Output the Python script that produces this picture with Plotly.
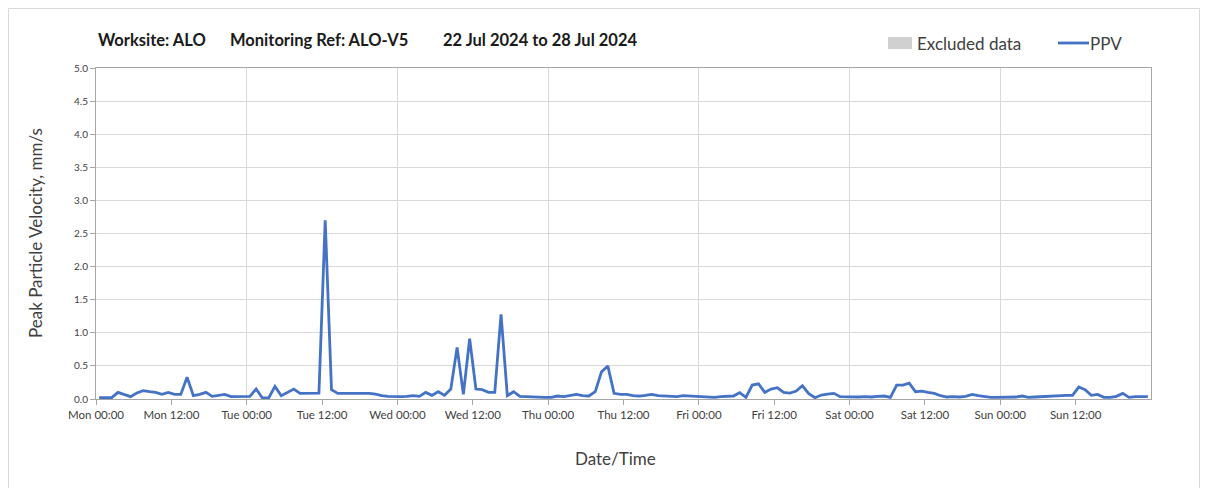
import plotly.graph_objects as go

# ---- data ----
hours = [h + 0.5 for h in range(168)]  # hourly readings, plotted mid-hour
ppv = [
    # Mon
    0.02, 0.02, 0.02, 0.10, 0.07, 0.035, 0.09, 0.125, 0.11, 0.10, 0.07, 0.10,
    0.07, 0.07, 0.33, 0.05, 0.07, 0.10, 0.04, 0.05, 0.07, 0.035, 0.035, 0.035,
    # Tue
    0.04, 0.15, 0.015, 0.015, 0.19, 0.05, 0.10, 0.15, 0.085, 0.09, 0.095, 0.09,
    2.70, 0.14, 0.085, 0.085, 0.09, 0.09, 0.09, 0.085, 0.075, 0.05, 0.04, 0.035,
    # Wed
    0.035, 0.04, 0.05, 0.04, 0.10, 0.055, 0.11, 0.055, 0.15, 0.78, 0.07, 0.91,
    0.15, 0.14, 0.10, 0.10, 1.28, 0.05, 0.11, 0.04, 0.035, 0.025, 0.025, 0.025,
    # Thu
    0.025, 0.045, 0.035, 0.05, 0.07, 0.05, 0.045, 0.11, 0.41, 0.50, 0.085, 0.07,
    0.07, 0.05, 0.045, 0.055, 0.07, 0.05, 0.045, 0.05, 0.035, 0.05, 0.045, 0.045,
    # Fri
    0.035, 0.03, 0.025, 0.035, 0.045, 0.045, 0.095, 0.025, 0.21, 0.23, 0.10, 0.15,
    0.17, 0.10, 0.09, 0.12, 0.20, 0.08, 0.02, 0.06, 0.075, 0.085, 0.035, 0.03,
    # Sat
    0.025, 0.03, 0.035, 0.03, 0.04, 0.045, 0.025, 0.21, 0.21, 0.24, 0.11, 0.12,
    0.10, 0.085, 0.05, 0.03, 0.035, 0.03, 0.04, 0.07, 0.05, 0.035, 0.025, 0.025,
    # Sun
    0.025, 0.025, 0.03, 0.045, 0.025, 0.03, 0.035, 0.05, 0.055, 0.055, 0.055, 0.055,
    0.18, 0.14, 0.055, 0.07, 0.025, 0.025, 0.04, 0.085, 0.025, 0.035, 0.035, 0.035,
]
tick_hours = list(range(0, 168, 12))
tick_labels = ["Mon 00:00", "Mon 12:00", "Tue 00:00", "Tue 12:00", "Wed 00:00",
               "Wed 12:00", "Thu 00:00", "Thu 12:00", "Fri 00:00", "Fri 12:00",
               "Sat 00:00", "Sat 12:00", "Sun 00:00", "Sun 12:00"]
day_bounds = list(range(24, 168, 24))
y_ticks = [i * 0.5 for i in range(11)]

FONT = "Lato, 'Open Sans', sans-serif"
TXT = "#404040"
LINE_BLUE = "#4472C4"
GRID = "#d9d9d9"
AXIS = "#a6a6a6"

fig = go.Figure()
fig.add_trace(go.Scatter(x=hours, y=ppv, mode="lines", name="PPV",
                         line=dict(color=LINE_BLUE, width=2.8), showlegend=False))

# page has an 8px body margin; work in page pixel coordinates
OFF = 8
PAGE_W, PAGE_H = 1208, 488
W, H = PAGE_W - OFF, PAGE_H - OFF
PL, PR, PT, PB = 96, 1151, 68, 399  # plot area in page pixels
L, T = PL - OFF, PT - OFF
R, B = W - (PR - OFF), H - (PB - OFF)
pw, ph = PR - PL, PB - PT


def px(x):
    return (x - PL) / pw


def py(y):
    return (PB - y) / ph


fig.update_layout(
    width=W, height=H,
    margin=dict(l=L, r=R, t=T, b=B, pad=0),
    paper_bgcolor="white", plot_bgcolor="white",
    font=dict(family=FONT, color=TXT),
    showlegend=False,
)
fig.update_xaxes(
    range=[0, 168], tickmode="array", tickvals=tick_hours, ticktext=tick_labels,
    showgrid=False, ticks="outside", ticklen=5, tickcolor=AXIS,
    tickfont=dict(size=11.5, color=TXT, family=FONT),
    showline=True, linecolor=AXIS, linewidth=1, mirror=True,
    minor=dict(tickvals=day_bounds, showgrid=True, gridcolor=GRID, gridwidth=1, ticks=""),
    zeroline=False,
)
fig.update_yaxes(
    range=[0, 5], tickmode="array", tickvals=y_ticks, tickformat=".1f",
    showgrid=True, gridcolor=GRID, gridwidth=1,
    ticks="outside", ticklen=5, tickcolor=AXIS,
    tickfont=dict(size=10, color=TXT, family=FONT),
    showline=True, linecolor=AXIS, linewidth=1, mirror=True, zeroline=False,
)

ann = [
    dict(text="<b>Worksite: ALO</b>", x=px(96), y=py(40)),
    dict(text="<b>Monitoring Ref: ALO-V5</b>", x=px(228), y=py(40)),
    dict(text="<b>22 Jul 2024 to 28 Jul 2024</b>", x=px(441), y=py(40)),
]
for a in ann:
    fig.add_annotation(xref="paper", yref="paper", xanchor="left", yanchor="middle",
                       showarrow=False, font=dict(size=16.5, color="#1a1a1a", family=FONT), **a)

# legend (manual)
fig.add_shape(type="rect", xref="paper", yref="paper", x0=px(888), x1=px(912),
              y0=py(49), y1=py(37), fillcolor="#d0d0d0", line=dict(width=0))
fig.add_annotation(xref="paper", yref="paper", x=px(915), y=py(43), text="Excluded data",
                   xanchor="left", yanchor="middle", showarrow=False,
                   font=dict(size=17, color=TXT, family=FONT))
fig.add_shape(type="line", xref="paper", yref="paper", x0=px(1058), x1=px(1089),
              y0=py(43), y1=py(43), line=dict(color=LINE_BLUE, width=2.8))
fig.add_annotation(xref="paper", yref="paper", x=px(1088), y=py(43), text="PPV",
                   xanchor="left", yanchor="middle", showarrow=False,
                   font=dict(size=17, color=TXT, family=FONT))

# axis titles
fig.add_annotation(xref="paper", yref="paper", x=px(35), y=py(233), text="Peak Particle Velocity, mm/s",
                   textangle=-90, showarrow=False, xanchor="center", yanchor="middle",
                   font=dict(size=17, color=TXT, family=FONT))
fig.add_annotation(xref="paper", yref="paper", x=px(615), y=py(458), text="Date/Time",
                   showarrow=False, xanchor="center", yanchor="middle",
                   font=dict(size=17, color=TXT, family=FONT))

# outer frame
fig.add_shape(type="rect", xref="paper", yref="paper", x0=px(8.5), x1=px(1199.5),
              y0=py(520), y1=py(8.5), line=dict(color="#d9d9d9", width=1), layer="below")

fig.write_html("out.html")
